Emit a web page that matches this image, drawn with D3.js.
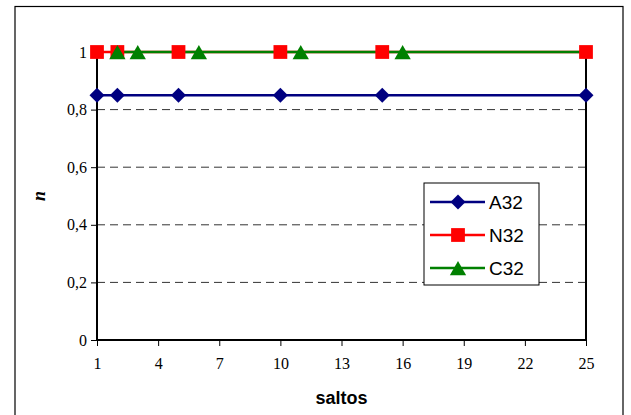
<!DOCTYPE html>
<html>
<head>
<meta charset="utf-8">
<script src="https://cdn.jsdelivr.net/npm/d3@7"></script>
<style>
  body { margin: 0; background: #fff; }
  svg { display: block; }
</style>
</head>
<body>
<div id="chart"></div>
<script>
// data
var xTicks = [1, 4, 7, 10, 13, 16, 19, 22, 25];
var yTicks = [0, 0.2, 0.4, 0.6, 0.8, 1];
var seriesNames = ["A32", "N32", "C32"];
var a32X = [1, 2, 5, 10, 15, 25];
var a32Y = [0.85, 0.85, 0.85, 0.85, 0.85, 0.85];
var n32X = [1, 2, 5, 10, 15, 25];
var n32Y = [1, 1, 1, 1, 1, 1];
// last C32 point lies past the axis end and gets clipped
var c32X = [2, 3, 6, 11, 16, 26];
var c32Y = [1, 1, 1, 1, 1, 1];

var width = 631, height = 415;
var plot = {left: 97, right: 586, top: 52, bottom: 340};

var svg = d3.select("#chart").append("svg")
  .attr("width", width)
  .attr("height", height);

svg.append("clipPath").attr("id", "plotclip")
  .append("rect")
  .attr("x", plot.left).attr("y", plot.top - 12)
  .attr("width", plot.right - plot.left).attr("height", plot.bottom - plot.top + 12);

// outer chart frame
svg.append("rect")
  .attr("x", 15).attr("y", 6.5)
  .attr("width", 608).attr("height", 420)
  .attr("fill", "#fff")
  .attr("stroke", "#000").attr("stroke-width", 1.2);

var x = d3.scaleLinear().domain([1, 25]).range([plot.left, plot.right]);
var y = d3.scaleLinear().domain([0, 1]).range([plot.bottom, plot.top]);

// dashed gridlines
svg.append("g").selectAll("line")
  .data(yTicks.filter(function(d) { return d > 0 && d < 1; }))
  .enter().append("line")
  .attr("x1", plot.left).attr("x2", plot.right)
  .attr("y1", function(d) { return y(d); })
  .attr("y2", function(d) { return y(d); })
  .attr("stroke", "#333").attr("stroke-width", 1)
  .attr("stroke-dasharray", "8,5");

// axes
var fmt = function(d) { return String(d).replace(".", ","); };
var yAxis = svg.append("g")
  .attr("transform", "translate(" + plot.left + ",0)")
  .call(d3.axisLeft(y).tickValues(yTicks).tickFormat(fmt).tickSize(6).tickPadding(4));
var xAxis = svg.append("g")
  .attr("transform", "translate(0," + plot.bottom + ")")
  .call(d3.axisBottom(x).tickValues(xTicks).tickSize(6).tickPadding(12));
[xAxis, yAxis].forEach(function(g) {
  g.attr("font-family", "'Liberation Serif', 'Times New Roman', serif").attr("font-size", 16);
  g.select(".domain").remove();
  g.selectAll("line").attr("stroke", "#000").attr("stroke-width", 1);
  g.selectAll("text").attr("fill", "#000");
});

// plot frame: left, bottom, right
svg.append("path")
  .attr("d", "M" + plot.left + "," + plot.top + "V" + plot.bottom + "H" + plot.right + "V" + plot.top)
  .attr("fill", "none").attr("stroke", "#000").attr("stroke-width", 2);

// axis titles
svg.append("text")
  .attr("x", x(13)).attr("y", 404)
  .attr("text-anchor", "middle")
  .attr("font-family", "'Liberation Sans', Arial, sans-serif")
  .attr("font-weight", "bold").attr("font-size", 18)
  .text("saltos");
svg.append("text")
  .attr("transform", "translate(45," + y(0.5) + ") rotate(-90)")
  .attr("text-anchor", "middle")
  .attr("font-family", "'Liberation Serif', 'Times New Roman', serif")
  .attr("font-weight", "bold").attr("font-style", "italic").attr("font-size", 18)
  .text("n");

var series = [
  {name: seriesNames[0], xs: a32X, ys: a32Y, color: "#000080", kind: "diamond"},
  {name: seriesNames[1], xs: n32X, ys: n32Y, color: "#ff0000", kind: "square"},
  {name: seriesNames[2], xs: c32X, ys: c32Y, color: "#008000", kind: "triangle"}
];

function marker(g, s, cx, cy) {
  var p = g.append("path").attr("fill", s.color);
  if (s.kind === "diamond") {
    p.attr("d", d3.symbol().type(d3.symbolSquare).size(112)())
      .attr("transform", "translate(" + cx + "," + cy + ") rotate(45)");
  } else if (s.kind === "square") {
    p.attr("d", d3.symbol().type(d3.symbolSquare).size(190)())
      .attr("transform", "translate(" + cx + "," + cy + ")");
  } else {
    p.attr("d", d3.symbol().type(d3.symbolTriangle).size(115)())
      .attr("transform", "translate(" + cx + "," + (cy + 2.5) + ")");
  }
}

var line = d3.line()
  .x(function(d) { return x(d[0]); })
  .y(function(d) { return y(d[1]); });

// all lines first, then all markers on top
var linesG = svg.append("g").attr("clip-path", "url(#plotclip)");
var markersG = svg.append("g");
series.forEach(function(s) {
  var pts = d3.zip(s.xs, s.ys);
  linesG.append("path")
    .datum(pts)
    .attr("d", line)
    .attr("fill", "none")
    .attr("stroke", s.color).attr("stroke-width", 2.5);
  pts.forEach(function(p) {
    if (p[0] <= 25) marker(markersG, s, x(p[0]), y(p[1]));
  });
});

// legend
var lg = svg.append("g").attr("transform", "translate(424,183)");
lg.append("rect")
  .attr("width", 115).attr("height", 102)
  .attr("fill", "#fff").attr("stroke", "#000").attr("stroke-width", 1);
series.forEach(function(s, i) {
  var ly = 19 + i * 33;
  lg.append("line")
    .attr("x1", 6).attr("x2", 61).attr("y1", ly).attr("y2", ly)
    .attr("stroke", s.color).attr("stroke-width", 2.5);
  marker(lg, s, 34, ly);
  lg.append("text")
    .attr("x", 65).attr("y", ly + 7)
    .attr("font-family", "'Liberation Sans', Arial, sans-serif")
    .attr("font-size", 19)
    .text(s.name);
});
</script>
</body>
</html>
